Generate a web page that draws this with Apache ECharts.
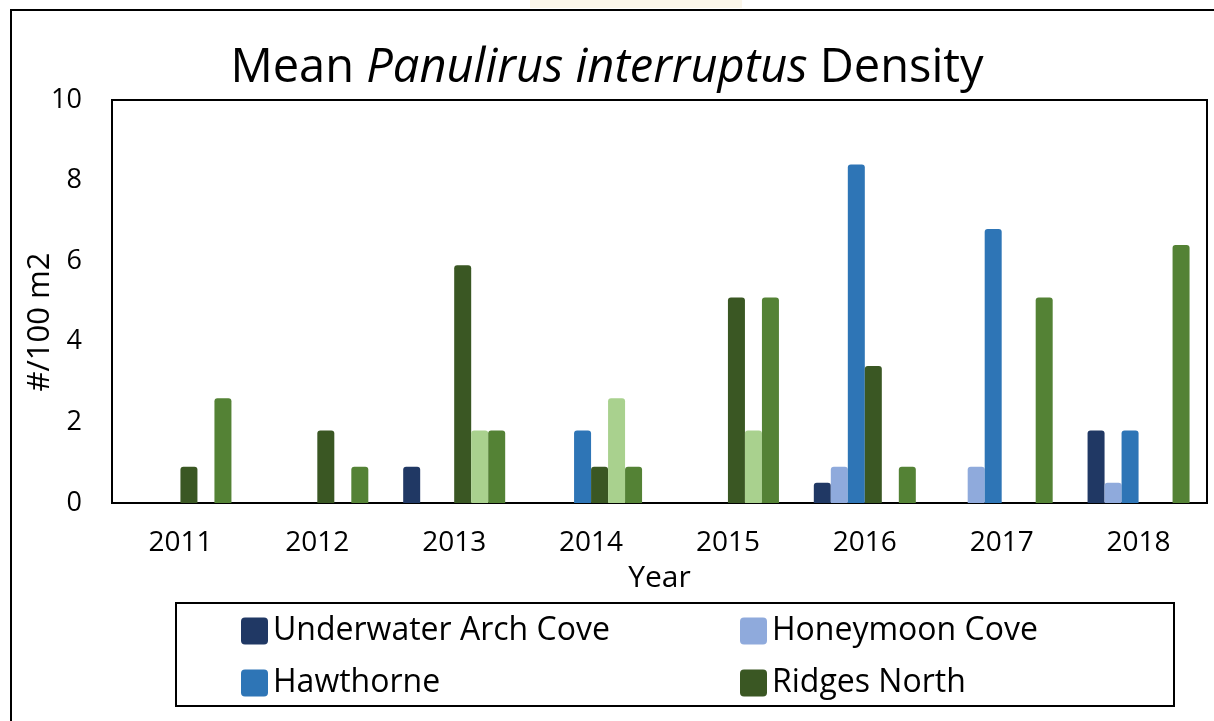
<!DOCTYPE html>
<html>
<head>
<meta charset="utf-8">
<script src="https://cdn.jsdelivr.net/npm/echarts@6/dist/echarts.min.js"></script>
<style>html,body{margin:0;padding:0;background:#fff}#c{width:1214px;height:721px}</style>
</head>
<body>
<div id="c"></div>
<script>
const years = ['2011','2012','2013','2014','2015','2016','2017','2018'];
const underwaterArchCove = [0, 0, 0.9, 0, 0, 0.5, 0, 1.8];
const honeymoonCove      = [0, 0, 0, 0, 0, 0.9, 0.9, 0.5];
const hawthorne          = [0, 0, 0, 1.8, 0, 8.4, 6.8, 1.8];
const ridgesNorth        = [0.9, 1.8, 5.9, 0.9, 5.1, 3.4, 0, 0];
const site5              = [0, 0, 1.8, 2.6, 1.8, 0, 0, 0];
const site6              = [2.6, 0.9, 1.8, 0.9, 5.1, 0.9, 5.1, 6.4];
const yTicks = [0, 2, 4, 6, 8, 10];

const FONT = 'Open Sans';
const seriesDefs = [
  {name: 'Underwater Arch Cove', data: underwaterArchCove, color: '#203864'},
  {name: 'Honeymoon Cove', data: honeymoonCove, color: '#8FAADC'},
  {name: 'Hawthorne', data: hawthorne, color: '#2E75B6'},
  {name: 'Ridges North', data: ridgesNorth, color: '#3A5723'},
  {name: 'Site 5', data: site5, color: '#A9D18E'},
  {name: 'Site 6', data: site6, color: '#548235'}
];

const chart = echarts.init(document.getElementById('c'), null, {renderer: 'canvas'});
const ICON = 'path://M4,0 H23 Q27,0 27,4 V23 Q27,27 23,27 H4 Q0,27 0,23 V4 Q0,0 4,0 Z';

function legendAt(name, left, top) {
  return {
    data: [name], left: left, top: top, orient: 'horizontal', padding: 0,
    itemWidth: 27, itemHeight: 27, icon: ICON, selectedMode: false,
    textStyle: {fontFamily: FONT, fontSize: 32, color: '#000'}
  };
}

chart.setOption({
  animation: false,
  backgroundColor: '#fff',
  title: {
    text: '{a|Mean }{b|Panulirus interruptus}{a| Density}',
    left: 'center', top: 40,
    textStyle: {
      rich: {
        a: {fontFamily: FONT, fontSize: 47, color: '#000', fontWeight: 'normal'},
        b: {fontFamily: FONT, fontSize: 47, color: '#000', fontStyle: 'italic', fontWeight: 'normal'}
      }
    }
  },
  grid: {left: 112, right: 7, top: 100, bottom: 218, show: true, borderColor: '#000', borderWidth: 2, backgroundColor: 'transparent'},
  legend: [
    legendAt('Underwater Arch Cove', 241, 615),
    legendAt('Honeymoon Cove', 740, 615),
    legendAt('Hawthorne', 241, 667),
    legendAt('Ridges North', 740, 667)
  ],
  xAxis: {
    type: 'category', data: years,
    name: 'Year', nameLocation: 'middle', nameGap: 60,
    nameTextStyle: {fontFamily: FONT, fontSize: 30, color: '#000'},
    axisLine: {show: false}, axisTick: {show: false},
    axisLabel: {fontFamily: FONT, fontSize: 28, color: '#000', margin: 26}
  },
  yAxis: {
    type: 'value', min: 0, max: 10, interval: 2,
    axisLine: {show: false}, axisTick: {show: false}, splitLine: {show: false},
    axisLabel: {fontFamily: FONT, fontSize: 27, color: '#000', margin: 30,
      formatter: v => yTicks.includes(v) ? String(v) : ''}
  },
  series: seriesDefs.map(s => ({
    name: s.name, type: 'bar', data: s.data, barWidth: 17, barGap: '0%',
    itemStyle: {color: s.color, borderRadius: [3, 3, 0, 0]}
  })),
  graphic: [
    {type: 'rect', shape: {x: 530, y: 0, width: 212, height: 8}, style: {fill: '#FBF6EA', stroke: null}, z: -1},
    {type: 'polyline', shape: {points: [[11, 721], [11, 10], [1214, 10]]}, style: {stroke: '#000', lineWidth: 2, fill: null}},
    {type: 'rect', shape: {x: 176, y: 603, width: 998, height: 103}, style: {stroke: '#000', lineWidth: 2, fill: null}},
    {type: 'text', x: 40, y: 322, rotation: Math.PI / 2,
      style: {text: '#/100 m2', fontFamily: FONT, fontSize: 31, fill: '#000', align: 'center', verticalAlign: 'middle'}}
  ]
});
</script>
</body>
</html>
